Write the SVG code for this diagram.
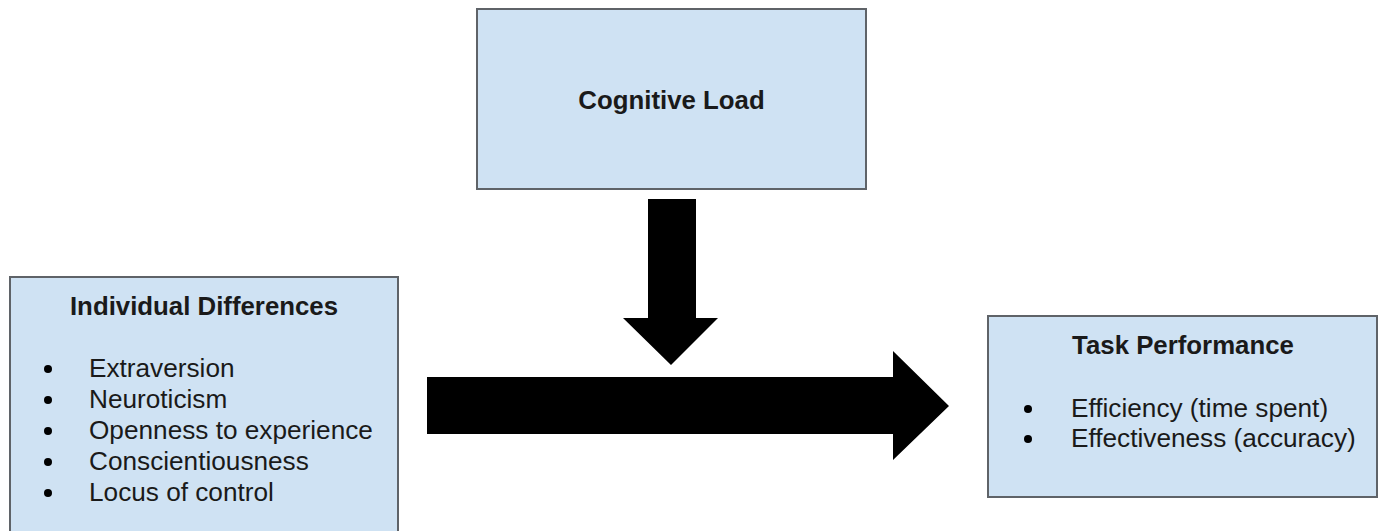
<svg xmlns="http://www.w3.org/2000/svg" width="1379" height="531" viewBox="0 0 1379 531">
  <style>
    .box { fill: #cfe2f3; stroke: #5f6368; stroke-width: 2; }
    .title { font-family: "Liberation Sans", Arial, sans-serif; font-weight: bold; font-size: 25.8px; fill: #1a1a1a; text-anchor: middle; }
    .item { font-family: "Liberation Sans", Arial, sans-serif; font-size: 26.2px; fill: #1a1a1a; }
    .bullet { fill: #000; }
    .arrow { fill: #000; }
  </style>
  <rect width="1379" height="531" fill="#ffffff"/>

  <g id="cognitive-load">
    <rect class="box" x="477" y="9" width="389" height="180"/>
    <text class="title" x="671.5" y="109">Cognitive Load</text>
  </g>

  <g id="individual-differences">
    <rect class="box" x="10" y="277" width="388" height="270"/>
    <text class="title" x="204" y="315">Individual Differences</text>
    <circle class="bullet" cx="48" cy="369" r="4"/>
    <text class="item" x="89" y="377">Extraversion</text>
    <circle class="bullet" cx="48" cy="400" r="4"/>
    <text class="item" x="89" y="408">Neuroticism</text>
    <circle class="bullet" cx="48" cy="431" r="4"/>
    <text class="item" x="89" y="439">Openness to experience</text>
    <circle class="bullet" cx="48" cy="462" r="4"/>
    <text class="item" x="89" y="470">Conscientiousness</text>
    <circle class="bullet" cx="48" cy="493" r="4"/>
    <text class="item" x="89" y="501">Locus of control</text>
  </g>

  <g id="task-performance">
    <rect class="box" x="988" y="316" width="389" height="181"/>
    <text class="title" x="1183" y="354">Task Performance</text>
    <circle class="bullet" cx="1028" cy="409" r="4"/>
    <text class="item" x="1071" y="417">Efficiency (time spent)</text>
    <circle class="bullet" cx="1028" cy="439" r="4"/>
    <text class="item" x="1071" y="447">Effectiveness (accuracy)</text>
  </g>

  <g id="connectors">
    <polygon class="arrow" points="648,199 696,199 696,318 718,318 671,365 623,318 648,318"/>
    <polygon class="arrow" points="427,377 893,377 893,351 949,406 893,460 893,434 427,434"/>
  </g>
</svg>
